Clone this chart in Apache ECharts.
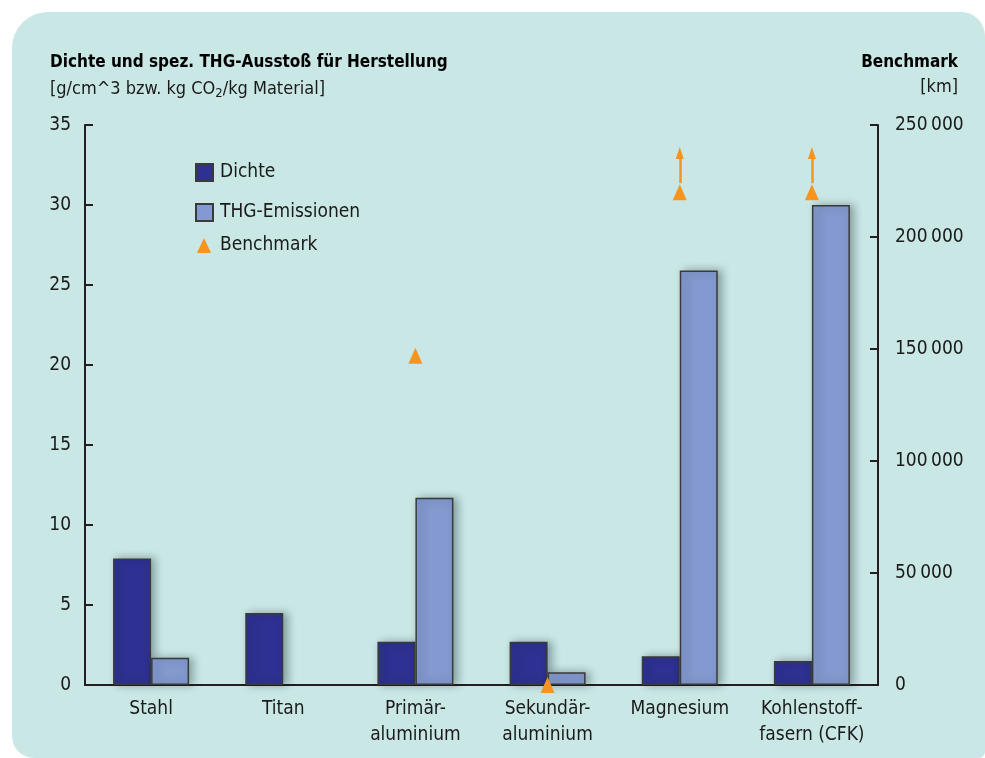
<!DOCTYPE html>
<html>
<head>
<meta charset="utf-8">
<script src="https://cdn.jsdelivr.net/npm/echarts@6/dist/echarts.min.js"></script>
<style>
html,body{margin:0;padding:0;background:#fff;}
#chart{width:985px;height:758px;}
</style>
</head>
<body>
<div id="chart"></div>
<script>
var categories = ['Stahl', 'Titan', 'Primär-\naluminium', 'Sekundär-\naluminium', 'Magnesium', 'Kohlenstoff-\nfasern (CFK)'];
var dichte = [7.9, 4.5, 2.7, 2.7, 1.8, 1.5];
var thg = [1.7, '-', 11.7, 0.8, 25.9, 30];
var benchmark = ['-', '-', 147000, 0, 220000, 220000];
var arrowFrom = 224000;
var arrowTo = 237500;
var arrowCats = [categories[4], categories[5]];
var leftTicks = [0, 5, 10, 15, 20, 25, 30, 35];
var rightTicks = [0, 50000, 100000, 150000, 200000, 250000];

var FONT = "'DejaVu Sans Condensed', 'DejaVu Sans', sans-serif";
var TXT = '#1a1a1a';
var AX = '#231F20';
var ORANGE = '#F7941D';

var chart = echarts.init(document.getElementById('chart'), null, {renderer: 'canvas'});

var markLineData = arrowCats.map(function (c) {
  return [{coord: [c, arrowFrom]}, {coord: [c, arrowTo]}];
});

var option = {
  backgroundColor: '#ffffff',
  textStyle: {fontFamily: FONT},
  graphic: [{
    type: 'rect',
    z: -100,
    silent: true,
    shape: {x: 12, y: 12, width: 973, height: 746, r: [36, 24, 6, 22]},
    style: {fill: '#C9E7E5'}
  }],
  title: [{
    left: 50, top: 54, padding: 0,
    text: 'Dichte und spez. THG-Ausstoß für Herstellung',
    textStyle: {fontFamily: FONT, fontSize: 17, fontWeight: 'bold', color: '#000'}
  }, {
    left: 50, top: 78, padding: 0,
    text: '[g/cm^3 bzw. kg CO{sub|2}/kg Material]',
    textStyle: {
      fontFamily: FONT, fontSize: 18, fontWeight: 'normal', color: TXT,
      rich: {sub: {fontFamily: FONT, fontSize: 13, color: TXT, padding: [9, 0, 0, 0]}}
    }
  }, {
    right: 27, top: 54, padding: 0,
    text: 'Benchmark',
    textStyle: {fontFamily: FONT, fontSize: 17, fontWeight: 'bold', color: '#000'}
  }, {
    right: 27, top: 78, padding: 0,
    text: '[km]',
    textStyle: {fontFamily: FONT, fontSize: 18, fontWeight: 'normal', color: TXT}
  }],
  legend: [{
    orient: 'vertical',
    left: 195, top: 163, padding: 0,
    itemWidth: 17, itemHeight: 17,
    itemGap: 21,
    icon: 'rect',
    data: ['Dichte', 'THG-Emissionen'],
    textStyle: {fontFamily: FONT, fontSize: 19, color: TXT, padding: [0, 0, 0, 2]},
    selectedMode: false
  }, {
    orient: 'vertical',
    left: 197, top: 236, padding: 0,
    itemWidth: 14, itemHeight: 15,
    data: [{name: 'Benchmark', icon: 'triangle'}],
    textStyle: {fontFamily: FONT, fontSize: 19, color: TXT, padding: [0, 0, 0, 4]},
    selectedMode: false
  }],
  grid: {left: 85, right: 107, top: 125, bottom: 73, containLabel: false},
  xAxis: {
    type: 'category',
    data: categories,
    axisLine: {lineStyle: {color: AX, width: 2}},
    axisTick: {inside: true, length: 8, lineStyle: {color: AX, width: 2}},
    axisLabel: {fontFamily: FONT, fontSize: 19, color: TXT, margin: 11, lineHeight: 26, interval: 0}
  },
  yAxis: [{
    type: 'value',
    min: 0, max: 35, interval: 5,
    axisLine: {show: true, lineStyle: {color: AX, width: 2}},
    axisTick: {show: true, inside: true, length: 8, lineStyle: {color: AX, width: 2}},
    splitLine: {show: false},
    axisLabel: {fontFamily: FONT, fontSize: 19, color: TXT, margin: 14}
  }, {
    type: 'value',
    min: 0, max: 250000, interval: 50000,
    position: 'right',
    axisLine: {show: true, lineStyle: {color: AX, width: 2}},
    axisTick: {show: true, inside: true, length: 8, lineStyle: {color: AX, width: 2}},
    splitLine: {show: false},
    axisLabel: {
      fontFamily: FONT, fontSize: 19, color: TXT, margin: 17,
      formatter: function (v) {
        if (v === 0) return '0';
        var s = String(v);
        return s.slice(0, s.length - 3) + '\u2009' + s.slice(-3);
      }
    }
  }],
  series: [{
    name: 'Dichte',
    type: 'bar',
    yAxisIndex: 0,
    data: dichte,
    barWidth: 38,
    barGap: '0%',
    itemStyle: {
      color: '#2E3192', borderColor: '#3a3a3a', borderWidth: 1.5,
      shadowColor: 'rgba(0,30,30,0.35)', shadowBlur: 8, shadowOffsetX: 4, shadowOffsetY: 0
    }
  }, {
    name: 'THG-Emissionen',
    type: 'bar',
    yAxisIndex: 0,
    data: thg,
    barWidth: 38,
    barGap: '0%',
    itemStyle: {
      color: '#8399CF', borderColor: '#3a3a3a', borderWidth: 1.5,
      shadowColor: 'rgba(0,30,30,0.35)', shadowBlur: 8, shadowOffsetX: 4, shadowOffsetY: 0
    }
  }, {
    name: 'Benchmark',
    type: 'scatter',
    yAxisIndex: 1,
    data: benchmark,
    symbol: 'triangle',
    symbolSize: [14, 16],
    z: 5,
    itemStyle: {color: ORANGE, opacity: 1},
    markLine: {
      silent: true,
      symbol: ['none', 'triangle'],
      symbolSize: [8, 12],
      label: {show: false},
      lineStyle: {color: ORANGE, width: 2.5, type: 'solid', opacity: 1},
      itemStyle: {color: ORANGE},
      emphasis: {disabled: true},
      data: markLineData
    }
  }],
  animation: false
};
chart.setOption(option);
</script>
</body>
</html>
